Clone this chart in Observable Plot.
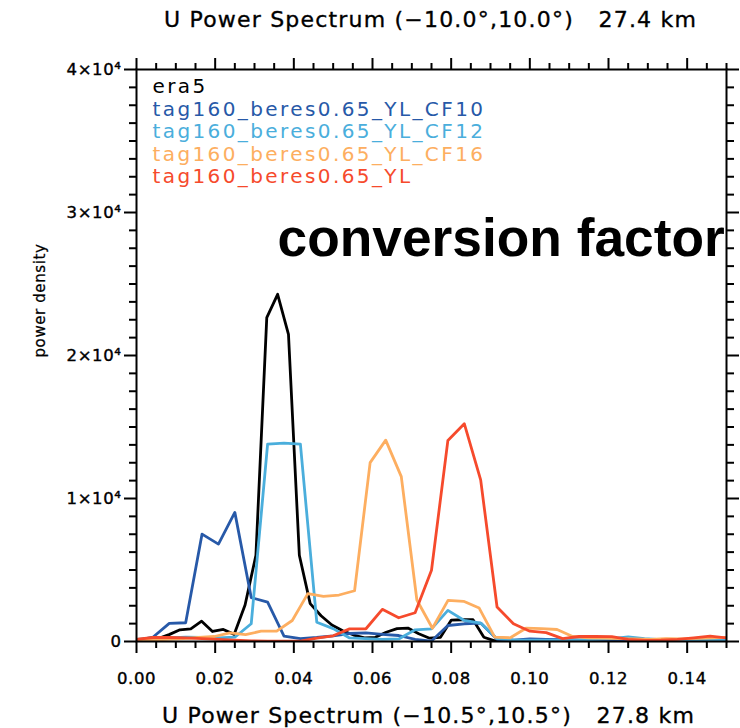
<!DOCTYPE html>
<html>
<head>
<meta charset="utf-8">
<script src="https://cdn.jsdelivr.net/npm/d3@7"></script>
<script src="https://cdn.jsdelivr.net/npm/@observablehq/plot@0.6"></script>
<style>
  body { margin: 0; background: #fff; }
  .title text { letter-spacing: 1.2px; stroke: #000; stroke-width: 0.35px; }
  .legend text { letter-spacing: 2.4px; }
  .ticklab text { letter-spacing: 0.6px; stroke: #000; stroke-width: 0.4px; }
  .ylab text { letter-spacing: 0.6px; stroke: #000; stroke-width: 0.25px; }
</style>
</head>
<body>
<div id="chart"></div>
<script>
// Run names and line colours
const seriesNames = [
  "era5",
  "tag160_beres0.65_YL_CF10",
  "tag160_beres0.65_YL_CF12",
  "tag160_beres0.65_YL_CF16",
  "tag160_beres0.65_YL"
];
const seriesColors = ["#000000", "#2759a8", "#4aaedc", "#fdae60", "#f64a2c"];

// Frequency spacing of each run's spectrum
const freqSteps = [0.00276, 1 / 240, 1 / 240, 0.00396, 1 / 240];

// Power density at successive frequencies
const era5 = [150, 180, 200, 480, 820, 890, 1420, 700, 840, 500, 2550, 6030, 22650, 24280, 21470,
  6030, 2650, 1800, 1150, 750, 450, 260, 290, 650, 900, 940, 540, 230, 290, 1500, 1520, 1520,
  300, 40, 40, 30, 30, 40, 30, 20, 30, 30, 40, 30, 30, 20, 30, 30, 20, 30, 20, 30, 20, 20, 20];
const cf10 = [70, 300, 1270, 1310, 7510, 6810, 9030, 3070, 2760, 380, 200, 280, 400, 560, 600,
  500, 420, 150, 30, 1120, 1240, 1290, 150, 100, 180, 150, 130, 120, 110, 90, 80, 70, 70, 60, 60, 60, 60];
const cf12 = [100, 180, 250, 300, 280, 250, 300, 1240, 13800, 13870, 13800, 1350, 900, 250, 200,
  150, 180, 820, 890, 2180, 1470, 1290, 200, 120, 100, 90, 100, 120, 150, 200, 320, 200, 130, 100, 90, 80, 80];
const cf16 = [50, 100, 150, 200, 280, 350, 600, 480, 720, 720, 1470, 3350, 3150, 3250, 3550,
  12510, 14080, 11530, 2900, 930, 2880, 2810, 2340, 300, 260, 930, 900, 840, 350, 250, 230, 200,
  180, 150, 200, 180, 220, 250, 300];
const yl = [150, 280, 280, 250, 200, 150, 100, 40, 20, 20, 20, 240, 400, 880, 890, 2250, 1660,
  2010, 4980, 14060, 15230, 11300, 2410, 1240, 720, 620, 200, 350, 350, 340, 150, 80, 90, 150, 250, 370, 250];
const seriesValues = [era5, cf10, cf12, cf16, yl];

// Axis ticks
const xMajor = [0, 0.02, 0.04, 0.06, 0.08, 0.10, 0.12, 0.14];
const yMajor = [0, 10000, 20000, 30000, 40000];
const xMinor = d3.range(0, 0.1501, 0.005).filter(v => Math.abs(v / 0.02 - Math.round(v / 0.02)) > 1e-6);
const yMinor = d3.range(0, 40001, 1250).filter(v => v % 10000 !== 0);

const topTitle = "U Power Spectrum (\u221210.0\u00b0,10.0\u00b0)\u00a0\u00a0\u00a027.4 km";
const bottomTitle = "U Power Spectrum (\u221210.5\u00b0,10.5\u00b0)\u00a0\u00a0\u00a027.8 km";
const yTitle = "power density";
const note = "conversion factor";

const rows = seriesNames.flatMap((name, s) =>
  seriesValues[s].map((v, i) => ({series: name, f: i * freqSteps[s], v}))
);

const yFmt = d => d === 0 ? "0" : `${d / 10000}\u00d710\u2074`;

const legendMarks = seriesNames.map((name, i) =>
  Plot.text([name], {
    frameAnchor: "top-left", textAnchor: "start", lineAnchor: "middle",
    dx: 16, dy: 17 + i * 22.6, fill: seriesColors[i], fontSize: 20, className: "legend"
  })
);

const chart = Plot.plot({
  width: 740,
  height: 728,
  marginLeft: 136,
  marginRight: 14,
  marginTop: 69,
  marginBottom: 87,
  style: {fontFamily: "'DejaVu Sans', sans-serif", background: "#fff", color: "#000"},
  x: {domain: [0, 0.15], label: null},
  y: {domain: [0, 40000], label: null},
  color: {domain: seriesNames, range: seriesColors},
  marks: [
    Plot.line(rows, {x: "f", y: "v", z: "series", stroke: "series", strokeWidth: 2.8, clip: true}),
    Plot.frame({stroke: "#000", strokeWidth: 2}),
    // bottom axis
    Plot.axisX({anchor: "bottom", ticks: xMajor, tickSize: 12, tickPadding: 19, strokeWidth: 2,
      tickFormat: d3.format(".2f"), fontSize: 16.5, className: "ticklab"}),
    Plot.axisX({anchor: "bottom", ticks: xMinor, tickSize: 7, strokeWidth: 2, tickFormat: () => ""}),
    // top axis
    Plot.axisX({anchor: "top", ticks: xMajor, tickSize: 12, strokeWidth: 2, tickFormat: () => ""}),
    Plot.axisX({anchor: "top", ticks: xMinor, tickSize: 7, strokeWidth: 2, tickFormat: () => ""}),
    // left axis
    Plot.axisY({anchor: "left", ticks: yMajor, tickSize: 12, tickPadding: 3, strokeWidth: 2,
      tickFormat: yFmt, fontSize: 16.5, className: "ticklab"}),
    Plot.axisY({anchor: "left", ticks: yMinor, tickSize: 7, strokeWidth: 2, tickFormat: () => ""}),
    // right axis
    Plot.axisY({anchor: "right", ticks: yMajor, tickSize: 12, strokeWidth: 2, tickFormat: () => ""}),
    Plot.axisY({anchor: "right", ticks: yMinor, tickSize: 7, strokeWidth: 2, tickFormat: () => ""}),
    // titles
    Plot.text([topTitle], {frameAnchor: "top", lineAnchor: "middle", dx: -1, dy: -50,
      fontSize: 22, className: "title"}),
    Plot.text([bottomTitle], {frameAnchor: "bottom", lineAnchor: "middle", dx: -3, dy: 74,
      fontSize: 22, className: "title"}),
    Plot.text([yTitle], {frameAnchor: "left", rotate: -90, lineAnchor: "middle", dx: -96, dy: 2,
      fontSize: 15, className: "ylab"}),
    Plot.text([note], {frameAnchor: "top-left", textAnchor: "start", lineAnchor: "middle",
      dx: 141, dy: 169, fontSize: 53.3, fontWeight: "bold",
      fontFamily: "'Liberation Sans', Arial, sans-serif"}),
    ...legendMarks
  ]
});

document.getElementById("chart").append(chart);
</script>
</body>
</html>
